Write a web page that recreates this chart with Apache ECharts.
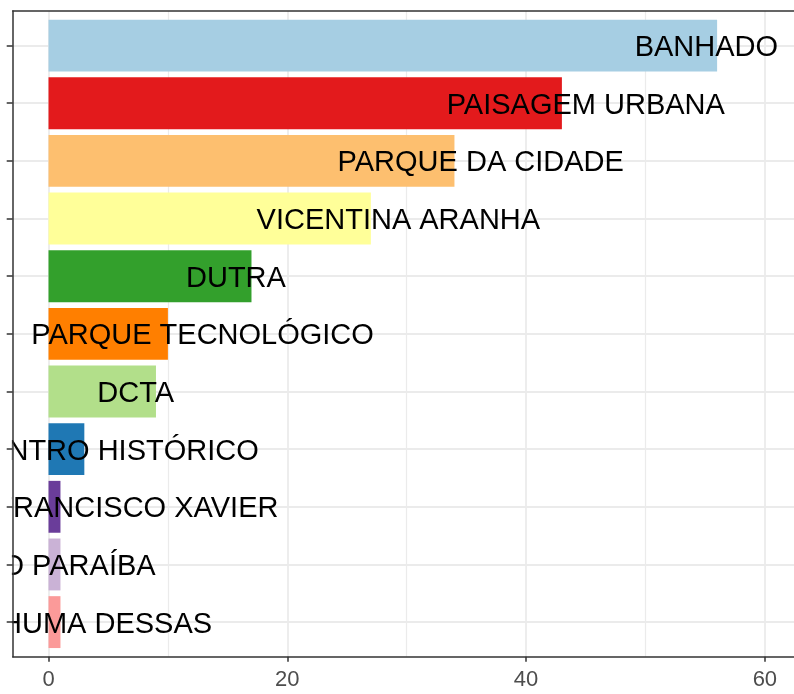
<!DOCTYPE html>
<html>
<head>
<meta charset="utf-8">
<script src="https://cdn.jsdelivr.net/npm/echarts@6/dist/echarts.min.js"></script>
<style>
  html, body { margin: 0; padding: 0; background: #fff; }
  #chart { width: 794px; height: 694px; }
</style>
</head>
<body>
<div id="chart"></div>
<script>
// Places (top to bottom) and number of mentions
const places = [
  'BANHADO', 'PAISAGEM URBANA', 'PARQUE DA CIDADE', 'VICENTINA ARANHA',
  'DUTRA', 'PARQUE TECNOLÓGICO', 'DCTA', 'CENTRO HISTÓRICO',
  'SÃO FRANCISCO XAVIER', 'RIO PARAÍBA', 'NENHUMA DESSAS'
];
const mentions = [56, 43, 34, 27, 17, 10, 9, 3, 1, 1, 1];
// Where each name is written along the value axis (jittered text)
const labelAt = [55.1, 45.0, 36.2, 29.3, 15.7, 12.9, 7.3, 5.4, 4.5, 1.3, 2.3];

// Axis ticks and grid lines
const majorTicks = [0, 20, 40, 60];
const minorTicks = [10, 30, 50];

// "Paired" qualitative palette
const palette = ['#A6CEE3', '#E31A1C', '#FDBF6F', '#FFFF99', '#33A02C', '#FF7F00',
                 '#B2DF8A', '#1F78B4', '#6A3D9A', '#CAB2D6', '#FB9A99'];

// category slots 1..n, with 0.6 of a slot of padding at both ends
const slots = places.map((p, i) => i + 1);
const BAR_SPAN = 0.9; // bar thickness, in slots
const AXIS = '#333333';
const GRID_LEFT = 12.7, GRID_TOP = 11, GRID_BOTTOM = 37.3;

const chart = echarts.init(document.getElementById('chart'), null, { renderer: 'canvas' });
const gridLine = (color, width) => ({ type: 'solid', color: color, width: width });
const valueRange = { min: -3, max: 62.44 };

// horizontal bar from 0 to the value, centred on its slot
function renderBar(params, api) {
  const v = api.value(0), s = api.value(1);
  const start = api.coord([0, s]);
  const end = api.coord([v, s]);
  const h = api.size([0, BAR_SPAN])[1];
  return {
    type: 'rect',
    shape: { x: start[0], y: start[1] - h / 2, width: end[0] - start[0], height: h },
    style: { fill: palette[params.dataIndex % palette.length] }
  };
}

const option = {
  animation: false,
  grid: { left: GRID_LEFT, top: GRID_TOP, bottom: GRID_BOTTOM, right: 0, show: false },
  xAxis: [
    {
      type: 'value', ...valueRange, position: 'bottom', z: 5,
      axisLine: { show: true, onZero: false, lineStyle: { color: AXIS, width: 1.5 } },
      splitLine: { show: false },
      axisTick: { show: true, length: 5, customValues: majorTicks,
                  lineStyle: { color: AXIS, width: 1.5 } },
      axisLabel: { show: true, customValues: majorTicks, margin: 12,
                   fontFamily: 'Liberation Sans, Arial, sans-serif', fontSize: 22, color: '#4D4D4D' }
    },
    {
      // top edge of the panel
      type: 'value', ...valueRange, position: 'top', z: 5,
      axisLine: { show: true, onZero: false, lineStyle: { color: AXIS, width: 1.5 } },
      splitLine: { show: false }, axisTick: { show: false }, axisLabel: { show: false }
    }
  ],
  yAxis: {
    type: 'value', min: 0.4, max: slots.length + 0.6, inverse: true, z: 5,
    axisLine: { show: true, onZero: false, lineStyle: { color: AXIS, width: 1.5 } },
    splitLine: { show: false },
    axisTick: { show: true, length: 6, customValues: slots,
                lineStyle: { color: AXIS, width: 1.5 } },
    axisLabel: { show: false }
  },
  graphic: [{
    // blank strip left of the panel so names are cut at its edge
    type: 'rect', z: 4, silent: true,
    shape: { x: 0, y: 0, width: GRID_LEFT - 0.8, height: 694 },
    style: { fill: '#ffffff' }
  }],
  series: [
    {
      // grid lines only
      type: 'line', data: [], z: 0, silent: true,
      markLine: {
        z: 0, silent: true, symbol: 'none', animation: false,
        label: { show: false }, emphasis: { disabled: true },
        data: [
          ...minorTicks.map(v => ({ xAxis: v, lineStyle: gridLine('#EBEBEB', 1.2) })),
          ...majorTicks.map(v => ({ xAxis: v, lineStyle: gridLine('#EBEBEB', 1.8) })),
          ...slots.map(s => ({ yAxis: s, lineStyle: gridLine('#EBEBEB', 1.8) }))
        ]
      }
    },
    {
      type: 'custom', z: 2, silent: true,
      renderItem: renderBar,
      encode: { x: 0, y: 1 },
      data: mentions.map((v, i) => [v, slots[i]])
    },
    {
      type: 'scatter', z: 3, symbolSize: 0, silent: true,
      itemStyle: { opacity: 1 },
      data: labelAt.map((v, i) => [v, slots[i]]),
      label: {
        show: true, position: 'inside', offset: [0, 2.5],
        formatter: params => places[params.dataIndex],
        fontFamily: 'Liberation Sans, Arial, sans-serif', fontSize: 29, color: '#000000'
      }
    }
  ]
};
chart.setOption(option);
</script>
</body>
</html>
